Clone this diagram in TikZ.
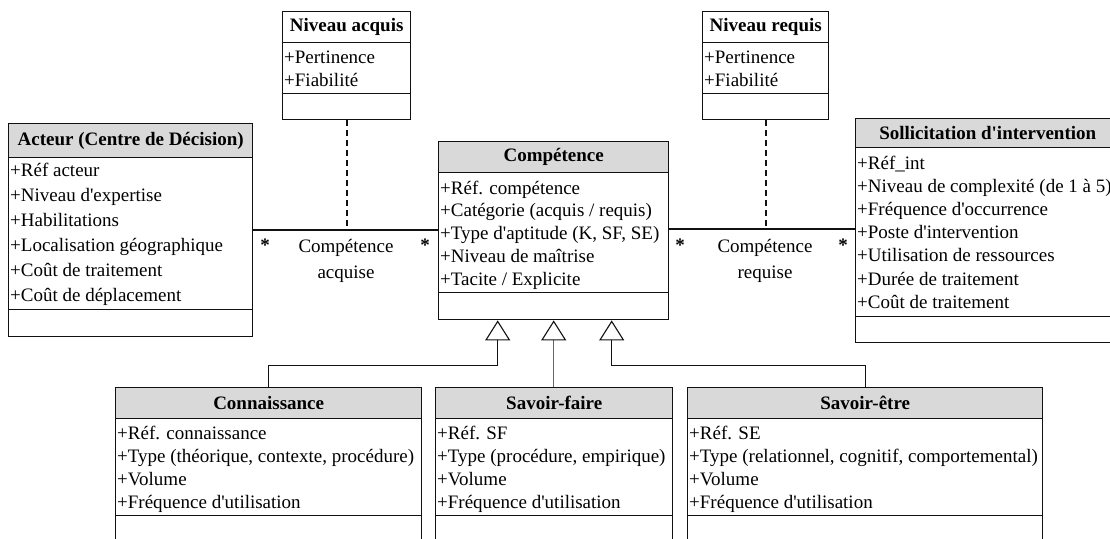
\documentclass[tikz,border=0pt]{standalone}
\usepackage{fontspec}
\setmainfont{Liberation Serif}
\usetikzlibrary{arrows.meta,calc}
\definecolor{hdrgray}{HTML}{D9D9D9}
\definecolor{linecol}{HTML}{111111}
\newcommand\ap{\textquotesingle}
\tikzset{
  hdr/.style={draw=linecol, line width=1.4pt, fill=hdrgray, inner sep=0, anchor=north west},
  comp/.style={draw=linecol, line width=1.4pt, fill=white, inner sep=0, anchor=north west},
  ttl/.style={font=\fontsize{19}{22}\selectfont\bfseries, inner sep=0},
  attr/.style={font=\fontsize{19}{22}\selectfont, anchor=base west, inner sep=0},
  lbl/.style={font=\fontsize{19}{26}\selectfont, align=center, inner sep=0},
  star/.style={font=\fontsize{19}{22}\selectfont\bfseries, anchor=base, inner sep=0},
  assoc/.style={draw=linecol, line width=1.2pt},
  dep/.style={draw=linecol, line width=1.6pt, dash pattern=on 6pt off 4pt},
  gen/.style={draw=linecol, line width=1pt, -{Triangle[open, length=20pt, width=25pt, line width=1.1pt, color=linecol]}}
}
\begin{document}
\begin{tikzpicture}[x=1pt, y=-1pt]
\useasboundingbox (0,0) rectangle (1110,538);

% ---------- Acteur ----------
\node[hdr, minimum width=244pt, minimum height=34pt] (acteurH) at (8,123) {};
\node[ttl] (acteurT) at (acteurH.center) {Acteur (Centre de Décision)};
\node[comp, minimum width=244pt, minimum height=152pt] (acteurA) at (8,157) {};
\node[comp, minimum width=244pt, minimum height=27pt] (acteurO) at (8,309) {};
\foreach \t [count=\i from 0] in {{+Réf acteur},{+Niveau d\ap expertise},{+Habilitations},{+Localisation géographique},{+Coût de traitement},{+Coût de déplacement}}
  \node[attr] (acteurL\i) at (10,{176+25*\i}) {\t};

% ---------- Niveau acquis ----------
\node[hdr, fill=white, minimum width=128pt, minimum height=31pt] (nacqH) at (282,11) {};
\node[ttl] (nacqT) at (nacqH.center) {Niveau acquis};
\node[comp, minimum width=128pt, minimum height=51pt] (nacqA) at (282,42) {};
\node[comp, minimum width=128pt, minimum height=26pt] (nacqO) at (282,93) {};
\node[attr] (nacqL0) at (284,63) {+Pertinence};
\node[attr] (nacqL1) at (284,86) {+Fiabilité};

% ---------- Niveau requis ----------
\node[hdr, fill=white, minimum width=126pt, minimum height=31pt] (nreqH) at (702,11) {};
\node[ttl] (nreqT) at (nreqH.center) {Niveau requis};
\node[comp, minimum width=126pt, minimum height=51pt] (nreqA) at (702,42) {};
\node[comp, minimum width=126pt, minimum height=26pt] (nreqO) at (702,93) {};
\node[attr] (nreqL0) at (704,63) {+Pertinence};
\node[attr] (nreqL1) at (704,86) {+Fiabilité};

% ---------- Compétence ----------
\node[hdr, minimum width=230pt, minimum height=31pt] (compH) at (438,141) {};
\node[ttl] (compT) at (compH.center) {Compétence};
\node[comp, minimum width=230pt, minimum height=120pt] (compA) at (438,172) {};
\node[comp, minimum width=230pt, minimum height=27pt] (compO) at (438,292) {};
\foreach \t [count=\i from 0] in {{+Réf. compétence},{+Catégorie (acquis / requis)},{+Type d\ap aptitude (K, SF, SE)},{+Niveau de maîtrise},{+Tacite / Explicite}}
  \node[attr] (compL\i) at (440,{194+22.8*\i}) {\t};

% ---------- Sollicitation ----------
\node[hdr, minimum width=264pt, minimum height=29pt] (sollH) at (855,118) {};
\node[ttl] (sollT) at (sollH.center) {Sollicitation d\ap intervention};
\node[comp, minimum width=264pt, minimum height=169pt] (sollA) at (855,147) {};
\node[comp, minimum width=264pt, minimum height=26pt] (sollO) at (855,316) {};
\foreach \t [count=\i from 0] in {{+Réf\_int},{+Niveau de complexité (de 1 à 5)},{+Fréquence d\ap occurrence},{+Poste d\ap intervention},{+Utilisation de ressources},{+Durée de traitement},{+Coût de traitement}}
  \node[attr] (sollL\i) at (857,{169+23.2*\i}) {\t};

% ---------- Connaissance ----------
\node[hdr, minimum width=306pt, minimum height=31pt] (connH) at (115,387) {};
\node[ttl] (connT) at (connH.center) {Connaissance};
\node[comp, minimum width=306pt, minimum height=97pt] (connA) at (115,418) {};
\node[comp, minimum width=306pt, minimum height=45pt] (connO) at (115,515) {};
\foreach \t [count=\i from 0] in {{+Réf. connaissance},{+Type (théorique, contexte, procédure)},{+Volume},{+Fréquence d\ap utilisation}}
  \node[attr] (connL\i) at (117,{439+23*\i}) {\t};

% ---------- Savoir-faire ----------
\node[hdr, minimum width=237pt, minimum height=31pt] (sfH) at (435,387) {};
\node[ttl] (sfT) at (sfH.center) {Savoir-faire};
\node[comp, minimum width=237pt, minimum height=97pt] (sfA) at (435,418) {};
\node[comp, minimum width=237pt, minimum height=45pt] (sfO) at (435,515) {};
\foreach \t [count=\i from 0] in {{+Réf. SF},{+Type (procédure, empirique)},{+Volume},{+Fréquence d\ap utilisation}}
  \node[attr] (sfL\i) at (437,{439+23*\i}) {\t};

% ---------- Savoir-être ----------
\node[hdr, minimum width=355pt, minimum height=31pt] (seH) at (687,387) {};
\node[ttl] (seT) at (seH.center) {Savoir-être};
\node[comp, minimum width=355pt, minimum height=97pt] (seA) at (687,418) {};
\node[comp, minimum width=355pt, minimum height=45pt] (seO) at (687,515) {};
\foreach \t [count=\i from 0] in {{+Réf. SE},{+Type (relationnel, cognitif, comportemental)},{+Volume},{+Fréquence d\ap utilisation}}
  \node[attr] (seL\i) at (689,{439+23*\i}) {\t};

% ---------- Associations ----------
\coordinate (aL) at (acteurA.east |- 0,230);
\coordinate (aR) at (compA.west |- 0,230);
\draw[assoc] (aL) -- (aR);
\coordinate (rL) at (compA.east |- 0,229);
\coordinate (rR) at (sollA.west |- 0,229);
\draw[assoc] (rL) -- (rR);
\draw[dep] (nacqO.south) -- (nacqO.south |- aL);
\draw[dep] (nreqO.south) -- (nreqO.south |- rL);

\node[star] (s1) at (265,251) {*};
\node[star] (s2) at (425,251) {*};
\node[star] (s3) at (680,251) {*};
\node[star] (s4) at (843,251) {*};
\node[lbl] (la) at (346,261) {Compétence\\acquise};
\node[lbl] (lr) at (765,261) {Compétence\\requise};

% ---------- Generalisations ----------
\coordinate (t1) at ($(compO.south)+(-56,0)$);
\coordinate (t2) at ($(compO.south)+(0,0)$);
\coordinate (t3) at ($(compO.south)+(58,0)$);
\draw[gen] (connH.north) -- ++(0,-22) -| (t1);
\draw[gen, draw=black!60] (sfH.north -| t2) -- (t2);
\draw[gen] (seH.north) -- ++(0,-22) -| (t3);
\end{tikzpicture}
\end{document}
